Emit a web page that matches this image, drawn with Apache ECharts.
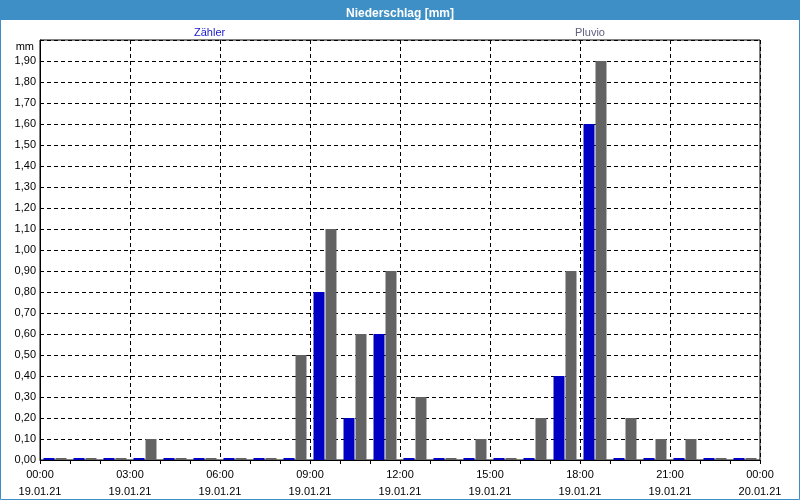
<!DOCTYPE html>
<html>
<head>
<meta charset="utf-8">
<script src="https://cdn.jsdelivr.net/npm/echarts@6/dist/echarts.min.js"></script>
<style>html,body{margin:0;padding:0;background:#fff}#c{width:800px;height:500px}</style>
</head>
<body>
<div id="c"></div>
<script>
const hours = [0,1,2,3,4,5,6,7,8,9,10,11,12,13,14,15,16,17,18,19,20,21,22,23];
const zaehler = [0,0,0,0,0,0,0,0,0,0.8,0.2,0.6,0,0,0,0,0,0.4,1.6,0,0,0,0,0];
const pluvio  = [0,0,0,0.1,0,0,0,0,0.5,1.1,0.6,0.9,0.3,0,0.1,0,0.2,0.9,1.9,0.2,0.1,0.1,0,0];
const tickTimes = ['00:00','03:00','06:00','09:00','12:00','15:00','18:00','21:00','00:00'];
const tickDates = ['19.01.21','19.01.21','19.01.21','19.01.21','19.01.21','19.01.21','19.01.21','19.01.21','20.01.21'];
const titleText = 'Niederschlag [mm]';
const unit = 'mm';

const FONT = 'Liberation Sans';
const chart = echarts.init(document.getElementById('c'), null, {renderer:'canvas'});
chart.setOption({
  animation: false,
  backgroundColor: '#ffffff',
  textStyle: {fontFamily: FONT},
  graphic: [
    {type:'rect', shape:{x:0,y:0,width:800,height:20}, style:{fill:'#3d8fc6'}, z:-1},
    {type:'rect', shape:{x:0.5,y:0.5,width:799,height:499}, style:{fill:'none', stroke:'#3d8fc6', lineWidth:1}, z:-1}
  ],
  title: {
    text: titleText, left: 'center', top: 3,
    textStyle: {color:'#ffffff', fontSize:12, fontWeight:'bold', fontFamily: FONT}
  },
  legend: [
    {data:[{name:'Zähler', textStyle:{color:'#1a1acc'}}], left:184, top:22, icon:'rect', itemWidth:0, itemHeight:0, textStyle:{fontSize:11, fontFamily:FONT}, selectedMode:false},
    {data:[{name:'Pluvio', textStyle:{color:'#606080'}}], left:565, top:22, icon:'rect', itemWidth:0, itemHeight:0, textStyle:{fontSize:11, fontFamily:FONT}, selectedMode:false}
  ],
  grid: {left:40, right:40, top:40, bottom:40, show:true, borderColor:'#000', borderWidth:1, backgroundColor:'transparent'},
  xAxis: {
    type:'value', min:0, max:24, interval:3,
    axisLine:{show:true, lineStyle:{color:'#000'}},
    axisTick:{show:true, length:4, lineStyle:{color:'#000'}},
    minorTick:{show:true, splitNumber:3, length:4, lineStyle:{color:'#000'}},
    splitLine:{show:true, lineStyle:{color:'#000', type:[4,3]}},
    axisLabel:{
      color:'#000', fontSize:11, lineHeight:17, margin:6, fontFamily:FONT,
      formatter: v => { const i = Math.round(v/3); return tickTimes[i] + '\n' + tickDates[i]; }
    }
  },
  yAxis: {
    type:'value', min:0, max:2.0, interval:0.1,
    name: unit, nameLocation:'end', nameGap:-7,
    nameTextStyle:{color:'#000', fontSize:11, align:'right', verticalAlign:'middle', padding:[0,6,0,0], fontFamily:FONT},
    axisLine:{show:true, lineStyle:{color:'#000'}},
    axisTick:{show:false},
    splitLine:{show:true, lineStyle:{color:'#000', type:[4,3]}},
    axisLabel:{
      color:'#000', fontSize:11, margin:4, fontFamily:FONT,
      formatter: v => v >= 1.999 ? '' : v.toFixed(2).replace('.', ',')
    }
  },
  series: [
    {name:'Zähler', type:'bar', barWidth:11, barGap:'9%', barMinHeight:2,
     itemStyle:{color:'#0000c4'},
     data: hours.map((h,i) => [h+0.5, zaehler[i]])},
    {name:'Pluvio', type:'bar', barWidth:11, barGap:'9%', barMinHeight:2,
     itemStyle:{color:'#636363'},
     data: hours.map((h,i) => [h+0.5, pluvio[i]])}
  ]
});
</script>
</body>
</html>
